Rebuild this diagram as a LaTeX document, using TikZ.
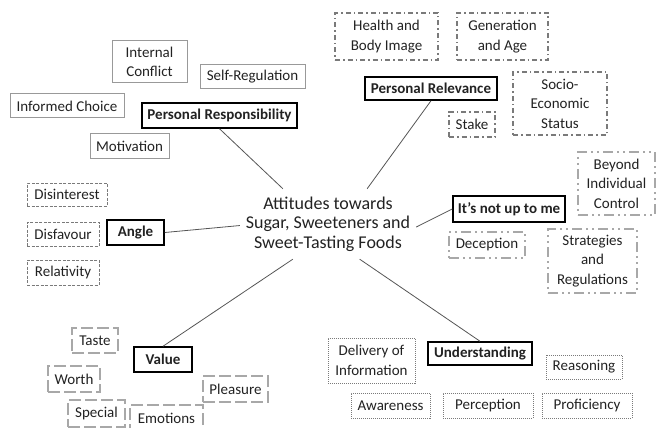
\documentclass[tikz,border=0pt]{standalone}
\usepackage{fontspec}
\setmainfont{Carlito}
\definecolor{txt}{HTML}{222222}
\definecolor{lin}{HTML}{555555}
\definecolor{g1}{HTML}{999999}
\definecolor{g2}{HTML}{7A7A7A}
\definecolor{g3}{HTML}{A8A8A8}
\begin{document}
\begin{tikzpicture}[x=1pt,y=-1pt,
  every node/.style={text=txt,align=center,inner sep=1pt,font=\fontsize{15}{19.5}\selectfont},
  mainbox/.style={draw=black,line width=1.5pt,font=\fontsize{15}{19.5}\selectfont\bfseries},
  solidbox/.style={draw=g1,line width=1pt},
  dashdotbox/.style={draw=g2,line width=1.2pt,dash pattern=on 5pt off 3pt on 1.5pt off 3pt},
  ddotbox/.style={draw=g3,line width=2pt,dash pattern=on 10pt off 4pt on 2pt off 4pt on 2pt off 4pt},
  smalldash/.style={draw=g2,line width=0.8pt,dash pattern=on 3pt off 1.5pt},
  longdash/.style={draw=g3,line width=2.2pt,dash pattern=on 12pt off 4pt},
  dotbox/.style={draw=g2,line width=1pt,dash pattern=on 1pt off 1pt},
  conn/.style={draw=lin,line width=0.8pt}]
\useasboundingbox (0,0) rectangle (657,428);

% centre
\node[minimum width=176,minimum height=70,font=\fontsize{18}{19.5}\selectfont] (ctr) at (328,224) {Attitudes towards\\Sugar, Sweeteners and\\Sweet-Tasting Foods};

% Personal Responsibility
\node[mainbox,minimum width=155,minimum height=25] (presp) at (219.5,115.5) {Personal Responsibility};
\node[solidbox,minimum width=75,minimum height=42] (ic) at (149.5,62) {Internal\\Conflict};
\node[solidbox,minimum width=105,minimum height=24] (sr) at (252.5,77) {Self-Regulation};
\node[solidbox,minimum width=114,minimum height=24] (infc) at (67,106) {Informed Choice};
\node[solidbox,minimum width=79,minimum height=25] (mot) at (129.5,146.5) {Motivation};

% Personal Relevance
\node[mainbox,minimum width=132,minimum height=23] (prel) at (431,88.5) {Personal Relevance};
\node[dashdotbox,minimum width=103,minimum height=47] (hbi) at (386.5,36.5) {Health and\\Body Image};
\node[dashdotbox,minimum width=91,minimum height=47] (ga) at (502.5,36.5) {Generation\\and Age};
\node[dashdotbox,minimum width=94,minimum height=63] (ses) at (560,103.5) {Socio-\\Economic\\Status};
\node[dashdotbox,minimum width=46,minimum height=25] (stake) at (472,124.5) {Stake};

% Angle
\node[mainbox,minimum width=57,minimum height=25] (angle) at (135.5,232.5) {Angle};
\node[smalldash,minimum width=80,minimum height=23] (disint) at (67,194.5) {Disinterest};
\node[smalldash,minimum width=72,minimum height=24] (disfav) at (63,234) {Disfavour};
\node[smalldash,minimum width=72,minimum height=25] (relat) at (63,272.5) {Relativity};

% It's not up to me
\node[mainbox,minimum width=112,minimum height=26] (inutm) at (509,209) {It’s not up to me};
\node[ddotbox,minimum width=77,minimum height=63] (bic) at (616.5,183.5) {Beyond\\Individual\\Control};
\node[ddotbox,minimum width=76,minimum height=26] (decep) at (487,245) {Deception};
\node[ddotbox,minimum width=89,minimum height=64] (sar) at (592.5,261) {Strategies\\and\\Regulations};

% Value
\node[mainbox,minimum width=58,minimum height=25] (value) at (163,359.5) {Value};
\node[longdash,minimum width=46,minimum height=25] (taste) at (95,340.5) {Taste};
\node[longdash,minimum width=52,minimum height=26] (worth) at (74,379) {Worth};
\node[longdash,minimum width=65,minimum height=26] (pleas) at (235.5,389) {Pleasure};
\node[longdash,minimum width=57,minimum height=27] (spec) at (96.5,413.5) {Special};
\node[longdash,minimum width=73,minimum height=27] (emo) at (166.5,418.5) {Emotions};

% Understanding
\node[mainbox,minimum width=104,minimum height=23] (und) at (480,353.5) {Understanding};
\node[dotbox,minimum width=87,minimum height=45] (doi) at (371.5,360.5) {Delivery of\\Information};
\node[dotbox,minimum width=76,minimum height=24] (reas) at (584,367) {Reasoning};
\node[dotbox,minimum width=79,minimum height=25] (aware) at (390.5,405.5) {Awareness};
\node[dotbox,minimum width=90,minimum height=25] (percep) at (488,405.5) {Perception};
\node[dotbox,minimum width=90,minimum height=25] (profic) at (587,405.5) {Proficiency};

% connectors
\draw[conn] (presp.south) -- (ctr.142);
\draw[conn] (prel.south) -- (ctr.42);
\draw[conn] (angle.east) -- (ctr.181);
\draw[conn] (inutm.west) -- (ctr.-2);
\draw[conn] (value.north) -- (ctr.225);
\draw[conn] (und.north) -- (ctr.-48);
\end{tikzpicture}
\end{document}
